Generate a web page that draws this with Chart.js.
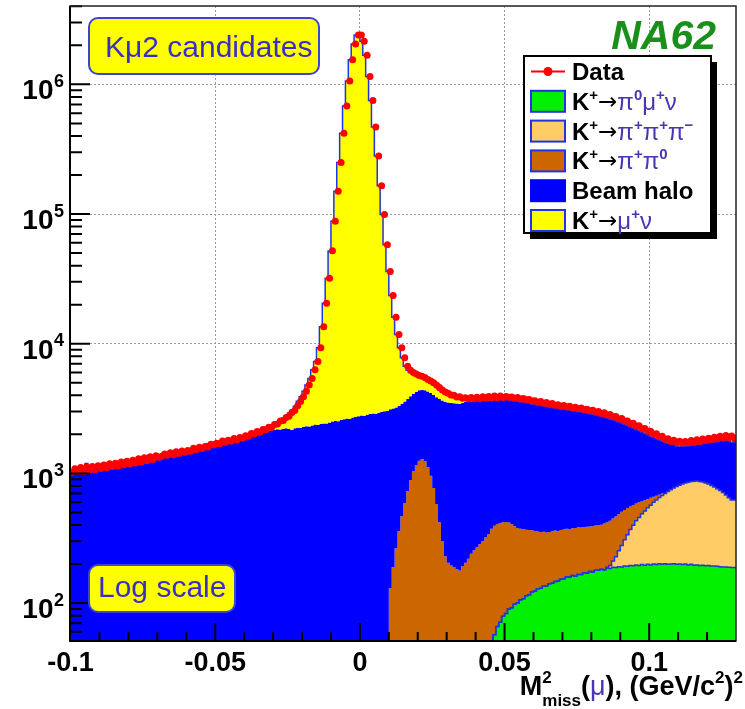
<!DOCTYPE html>
<html>
<head>
<meta charset="utf-8">
<title>Kμ2 candidates - missing mass</title>
<script src="https://cdn.jsdelivr.net/npm/chart.js@4.4.1/dist/chart.umd.min.js"></script>
<style>
  body { margin: 0; background: #fff; }
  canvas { display: block; }
</style>
</head>
<body>
<canvas id="mmiss" width="745" height="709"></canvas>
<script>
// histogram binning : 230 bins of 0.001 (GeV/c2)^2 from -0.1 to 0.13
const binWidth = 0.001;
const histLow = -0.1;
const nBins = 230;
const binEdges = Array.from({length: nBins + 1}, (_, i) => +(histLow + i * binWidth).toFixed(4));
const binCenters = binEdges.slice(0, nBins).map(e => +(e + binWidth / 2).toFixed(4));

// axes
const xTickValues = [-0.1, -0.05, 0, 0.05, 0.1];
const xTickLabels = ['-0.1', '-0.05', '0', '0.05', '0.1'];
const yTickExponents = [2, 3, 4, 5, 6];

// data, one value per bin
const dataCounts = [
  1020, 1085, 1040, 1110, 1035, 1120, 1060, 1130, 1070, 1145,
  1090, 1160, 1105, 1185, 1130, 1200, 1140, 1225, 1165, 1240,
  1180, 1265, 1205, 1295, 1225, 1320, 1250, 1345, 1280, 1370,
  1330, 1355, 1410, 1380, 1440, 1395, 1470, 1425, 1490, 1455,
  1500, 1480, 1560, 1530, 1590, 1555, 1610, 1600, 1680, 1660,
  1710, 1690, 1780, 1745, 1800, 1770, 1860, 1820, 1890, 1870,
  1950, 1935, 2030, 2010, 2100, 2080, 2180, 2170, 2270, 2265,
  2380, 2400, 2530, 2560, 2700, 2760, 2950, 3060, 3330, 3580,
  3900, 4300, 4800, 5400, 6300, 7300, 9300, 13500, 20500, 32000,
  52000, 88000, 150000, 250000, 420000, 680000, 1060000, 1550000, 2050000, 2400000,
  2400000, 2150000, 1680000, 1150000, 750000, 470000, 280000, 165000, 99000, 58000,
  36000, 23500, 16000, 11800, 9300, 7800, 6700, 6250, 6000, 5850,
  5700, 5600, 5500, 5300, 5150, 5000, 4800, 4600, 4400, 4250,
  4150, 4030, 4010, 3890, 3900, 3790, 3830, 3750, 3840, 3760,
  3870, 3760, 3900, 3790, 3920, 3810, 3950, 3830, 3960, 3850,
  3920, 3860, 3890, 3790, 3840, 3750, 3780, 3690, 3720, 3620,
  3630, 3530, 3580, 3470, 3520, 3410, 3460, 3350, 3390, 3290,
  3340, 3250, 3290, 3200, 3240, 3150, 3190, 3100, 3130, 3040,
  3070, 2970, 3000, 2900, 2930, 2820, 2840, 2730, 2750, 2630,
  2650, 2530, 2540, 2420, 2440, 2320, 2330, 2210, 2220, 2110,
  2110, 2000, 2020, 1915, 1930, 1835, 1850, 1765, 1800, 1720,
  1770, 1715, 1765, 1720, 1790, 1730, 1820, 1760, 1845, 1800,
  1870, 1820, 1900, 1850, 1930, 1880, 1960, 1890, 1940, 1850
];

// beam halo, every bin
const haloCounts = [
  1020, 1030, 1060, 1050, 1040, 1060, 1190, 1075, 1070, 1160,
  1075, 1110, 1095, 1125, 1115, 1140, 1125, 1165, 1150, 1180,
  1165, 1205, 1190, 1230, 1215, 1255, 1235, 1285, 1265, 1305,
  1320, 1300, 1350, 1370, 1335, 1380, 1400, 1375, 1420, 1440,
  1425, 1470, 1500, 1470, 1515, 1545, 1530, 1575, 1690, 1640,
  1630, 1670, 1700, 1720, 1700, 1750, 1780, 1760, 1815, 1845,
  1860, 1890, 1920, 1950, 1980, 2000, 2030, 2060, 2090, 2120,
  2150, 2170, 2190, 2180, 2210, 2230, 2200, 2160, 2230, 2250,
  2240, 2290, 2310, 2300, 2340, 2380, 2360, 2400, 2430, 2420,
  2470, 2510, 2540, 2520, 2580, 2610, 2650, 2630, 2700, 2720,
  2760, 2790, 2780, 2830, 2870, 2900, 2880, 2940, 2970, 3010,
  3030, 2990, 2970, 2960, 2950, 2980, 3000, 3020, 3050, 3080,
  3100, 3120, 3100, 3140, 3170, 3200, 3250, 3290, 3330, 3350,
  3340, 3310, 3290, 3280, 3270, 3270, 3300, 3340, 3350, 3360,
  3375, 3340, 3375, 3340, 3360, 3330, 3325, 3310, 3330, 3300,
  3280, 3300, 3260, 3250, 3240, 3240, 3200, 3180, 3150, 3120,
  3060, 3040, 3030, 2990, 2970, 2930, 2910, 2870, 2840, 2810,
  2790, 2760, 2730, 2710, 2680, 2660, 2620, 2600, 2570, 2530,
  2500, 2470, 2430, 2400, 2360, 2310, 2250, 2200, 2140, 2080,
  2010, 1940, 1870, 1800, 1740, 1670, 1600, 1540, 1480, 1420,
  1350, 1290, 1240, 1180, 1130, 1080, 1040, 985, 945, 900,
  830, 810, 790, 785, 780, 785, 795, 800, 820, 845,
  865, 895, 935, 965, 1005, 1045, 1085, 1105, 1125, 1115
];

// K -> mu nu, bins from -0.0345
const kmu2First = -0.0345;
const kmu2Counts = [
  100, 120, 130, 150, 170,
  200, 250, 310, 400, 470, 550, 720, 920, 1070, 1350,
  1660, 2010, 2490, 3100, 3960, 4920, 6940, 11100, 18070, 29580,
  49500, 85500, 147500, 247500, 417400, 677400, 1057000, 1547000, 2047000, 2397000,
  2397000, 2147000, 1677000, 1147000, 747100, 467100, 277100, 162000, 96000, 55000, 33000,
  20380, 12840, 8575, 5990, 4350, 3110, 2500, 2060, 1730, 1440,
  1230, 1110, 920, 860, 840, 780, 730, 650, 600, 560,
  535, 495, 450, 408, 372, 298, 235, 230, 190, 190,
  190, 190, 190, 190, 190, 200
];

// K -> pi pi0, bins from 0.0115
const pipi0First = 0.0115;
const pipi0Counts = [
  130, 190, 265, 360, 470, 590, 730, 890, 1040, 1160,
  1250, 1290, 1240, 1120, 960, 770, 580, 420, 300, 230,
  205, 195, 190, 182, 178, 192, 205, 220, 240, 255,
  270, 285, 300, 320, 340, 337, 338, 339, 344, 341,
  339, 328, 313, 294, 280, 269, 264, 254, 250, 242,
  236, 227, 222, 220, 214, 213, 216, 215, 212, 213,
  216, 215, 213, 215, 219, 218, 216, 215, 218, 215,
  218, 217, 219, 220, 229, 231, 237, 237, 237, 232,
  227, 214, 203, 185, 171, 153, 141, 122, 108, 92,
  79, 60, 49, 34, 25
];

// K -> pi pi pi, bins from 0.0865
const pipipiFirst = 0.0865;
const pipipiCounts = [
  3, 10, 22, 40, 62, 88, 115, 145, 175, 205,
  235, 262, 290, 318, 345, 372, 400, 425, 450, 475,
  500, 525, 548, 570, 592, 612, 630, 645, 658, 668,
  675, 676, 672, 663, 650, 633, 613, 592, 570, 546,
  522, 490, 460, 435
];

// K -> pi0 mu nu, bins from 0.0465
const pi0munuFirst = 0.0465;
const pi0munuCounts = [
  38, 57, 66, 71, 79, 83, 90, 92, 98, 100,
  106, 108, 114, 116, 122, 124, 129, 130, 135, 136,
  141, 142, 147, 148, 153, 154, 159, 159, 163, 161,
  166, 166, 171, 170, 175, 174, 179, 179, 182, 181,
  186, 185, 189, 188, 191, 190, 193, 192, 195, 194,
  197, 195, 198, 196, 199, 197, 200, 198, 201, 199,
  201, 199, 200, 201, 199, 200, 198, 200, 197, 199,
  196, 197, 195, 196, 194, 195, 193, 193, 192, 191,
  190, 190, 189, 188
];

// put a partial histogram into the full binning
function place(values, firstCenter) {
  const out = new Array(nBins).fill(0);
  const k0 = Math.round((firstCenter - binCenters[0]) / binWidth);
  values.forEach((v, j) => { if (k0 + j < nBins) out[k0 + j] = v; });
  return out;
}

// THStack order, bottom to top
const layers = [
  place(pi0munuCounts, pi0munuFirst),
  place(pipipiCounts, pipipiFirst),
  place(pipi0Counts, pipi0First),
  haloCounts,
  place(kmu2Counts, kmu2First)
];
let running = new Array(nBins).fill(0);
const stackTops = layers.map(l => (running = running.map((s, i) => s + l[i])));

// step outline on bin edges; empty bins pushed below the frame
function stepPoints(vals) {
  const pts = vals.map((v, i) => ({x: binEdges[i], y: v > 0 ? v : 1}));
  pts.push({x: binEdges[nBins], y: pts[nBins - 1].y});
  return pts;
}

const FONT = '"Liberation Sans", Arial, Helvetica, sans-serif';
const outline = '#2233e0';
const greekInk = '#4a36b4';

const mc = [
  {label: 'K⁺→μ⁺ν', fill: '#ffff00', border: outline, width: 1.5},
  {label: 'Beam halo', fill: '#0000ff', border: '#0000ff', width: 0},
  {label: 'K⁺→π⁺π⁰', fill: '#cc6600', border: '#cc6600', width: 0},
  {label: 'K⁺→π⁺π⁺π⁻', fill: '#ffcc66', border: outline, width: 1.5},
  {label: 'K⁺→π⁰μ⁺ν', fill: '#00f000', border: outline, width: 1.5}
];

const datasets = [{
  label: 'Data',
  data: binCenters.map((x, i) => ({x, y: dataCounts[i]})),
  showLine: false,
  pointRadius: 3.5,
  pointBorderWidth: 0,
  pointBackgroundColor: '#ff0000',
  pointBorderColor: '#ff0000'
}];
mc.forEach((m, k) => {
  datasets.push({
    label: m.label,
    data: stepPoints(stackTops[4 - k]),
    stepped: 'after',
    backgroundColor: m.fill,
    borderColor: m.border,
    borderWidth: m.width,
    pointRadius: 0,
    fill: k === 4 ? 'start' : '+1'
  });
});

// rich text pieces for the legend
const styles = {
  t:  {size: 24, weight: 'bold', color: '#000', dy: 0},
  s:  {size: 15, weight: 'bold', color: '#000', dy: -10},
  a:  {size: 23, weight: 'normal', color: '#000', dy: -1, family: '"DejaVu Sans", sans-serif'},
  g:  {size: 24, weight: 'normal', color: greekInk, dy: 0},
  gs: {size: 15, weight: 'bold', color: greekInk, dy: -10}
};
function drawParts(ctx, x, y, parts) {
  for (const [text, key] of parts) {
    const st = styles[key];
    ctx.font = `${st.weight} ${st.size}px ${st.family || FONT}`;
    ctx.fillStyle = st.color;
    ctx.fillText(text, x, y + st.dy);
    x += ctx.measureText(text).width;
  }
}

const legendRows = [
  {ds: 0, parts: [['Data', 't']]},
  {ds: 5, parts: [['K', 't'], ['+', 's'], ['→', 'a'], ['π', 'g'], ['0', 'gs'], ['μ', 'g'], ['+', 'gs'], ['ν', 'g']]},
  {ds: 4, parts: [['K', 't'], ['+', 's'], ['→', 'a'], ['π', 'g'], ['+', 'gs'], ['π', 'g'], ['+', 'gs'], ['π', 'g'], ['−', 'gs']]},
  {ds: 3, parts: [['K', 't'], ['+', 's'], ['→', 'a'], ['π', 'g'], ['+', 'gs'], ['π', 'g'], ['0', 'gs']]},
  {ds: 2, parts: [['Beam halo', 't']]},
  {ds: 1, parts: [['K', 't'], ['+', 's'], ['→', 'a'], ['μ', 'g'], ['+', 'gs'], ['ν', 'g']]}
];

function labelBox(ctx, x, y, w, h, text, tx, ty) {
  ctx.beginPath();
  ctx.roundRect(x, y, w, h, 9);
  ctx.fillStyle = '#ffff00';
  ctx.fill();
  ctx.lineWidth = 2;
  ctx.strokeStyle = '#3a46d0';
  ctx.stroke();
  ctx.font = `30px ${FONT}`;
  ctx.fillStyle = '#3b2ec2';
  ctx.textAlign = 'left';
  ctx.fillText(text, tx, ty);
}

// ROOT style frame, inside ticks, labels, legend
const rootDecor = {
  id: 'rootDecor',
  afterDatasetsDraw(chart) {
    const {ctx, chartArea: a, scales: {x, y}} = chart;
    ctx.save();
    ctx.strokeStyle = '#000';
    ctx.lineWidth = 2;
    ctx.beginPath();
    for (let k = -10; k <= 13; k++) {
      const px = x.getPixelForValue(k / 100);
      if (px < a.left + 1 || px > a.right - 1) continue;
      const len = k % 5 === 0 ? 18 : 9;
      ctx.moveTo(px, a.bottom);
      ctx.lineTo(px, a.bottom - len);
    }
    for (let e = 1; e <= 6; e++) {
      for (let m = 1; m <= 9; m++) {
        const v = m * 10 ** e;
        if (v < y.min || v > y.max) continue;
        const py = y.getPixelForValue(v);
        ctx.moveTo(a.left, py);
        ctx.lineTo(a.left + (m === 1 ? 20 : 12), py);
      }
    }
    ctx.stroke();

    ctx.lineWidth = 1.5;
    ctx.strokeStyle = '#222';
    ctx.strokeRect(a.left, a.top, a.right - a.left, a.bottom - a.top);
    ctx.lineWidth = 2;
    ctx.strokeStyle = '#000';
    ctx.beginPath();
    ctx.moveTo(a.left, a.top);
    ctx.lineTo(a.left, a.bottom);
    ctx.lineTo(a.right, a.bottom);
    ctx.stroke();
    ctx.restore();
  },
  afterDraw(chart) {
    const {ctx, scales: {x, y}} = chart;
    ctx.save();

    // y labels 10^n
    yTickExponents.forEach(e => {
      const py = y.getPixelForValue(10 ** e);
      ctx.fillStyle = '#000';
      ctx.font = `bold 28px ${FONT}`;
      ctx.textAlign = 'right';
      ctx.fillText('10', 53.5, py + 15);
      ctx.font = `bold 18px ${FONT}`;
      ctx.textAlign = 'left';
      ctx.fillText(String(e), 54, py + 2.5);
    });

    // x labels
    ctx.font = `bold 27px ${FONT}`;
    ctx.textAlign = 'center';
    xTickValues.forEach((v, i) => {
      ctx.fillText(xTickLabels[i], x.getPixelForValue(v), 671);
    });

    // axis title M^2_miss(mu), (GeV/c^2)^2
    ctx.textAlign = 'left';
    const big = `bold 27px ${FONT}`, small = `bold 17px ${FONT}`, greek = `27px ${FONT}`;
    const measure = (t, f) => { ctx.font = f; return ctx.measureText(t).width; };
    const wM = measure('M', big);
    const wStack = Math.max(measure('2', small), measure('miss', small));
    const wA = measure('(', big), wMu = measure('μ', greek);
    const wB = measure('), (GeV/c', big), w2 = measure('2', small), wC = measure(')', big);
    let tx = 743 - (wM + wStack + wA + wMu + wB + w2 + wC + w2);
    const base = 695;
    ctx.fillStyle = '#000';
    ctx.font = big; ctx.fillText('M', tx, base); tx += wM;
    ctx.font = small; ctx.fillText('2', tx, base - 12); ctx.fillText('miss', tx, base + 11); tx += wStack;
    ctx.font = big; ctx.fillText('(', tx, base); tx += wA;
    ctx.font = greek; ctx.fillStyle = greekInk; ctx.fillText('μ', tx, base); tx += wMu;
    ctx.fillStyle = '#000';
    ctx.font = big; ctx.fillText('), (GeV/c', tx, base); tx += wB;
    ctx.font = small; ctx.fillText('2', tx, base - 12); tx += w2;
    ctx.font = big; ctx.fillText(')', tx, base); tx += wC;
    ctx.font = small; ctx.fillText('2', tx, base - 12);

    // experiment tag
    ctx.font = `italic bold 41px ${FONT}`;
    ctx.fillStyle = '#1b8f1b';
    ctx.textAlign = 'right';
    ctx.fillText('NA62', 716, 49);

    labelBox(ctx, 89, 18, 230, 56, 'Kμ2 candidates', 105, 57);
    labelBox(ctx, 89, 565, 146, 47, 'Log scale', 98, 597);

    // legend with drop shadow
    const lx = 524, ly = 56, lw = 187, lh = 177;
    ctx.fillStyle = '#000';
    ctx.fillRect(lx + 6, ly + 6, lw, lh);
    ctx.fillStyle = '#fff';
    ctx.fillRect(lx, ly, lw, lh);
    ctx.lineWidth = 2;
    ctx.strokeStyle = '#000';
    ctx.strokeRect(lx, ly, lw, lh);
    ctx.textAlign = 'left';
    legendRows.forEach((row, r) => {
      const cy = 71.5 + r * 29.8;
      const ds = chart.data.datasets[row.ds];
      if (row.ds === 0) {
        ctx.strokeStyle = '#ff0000';
        ctx.lineWidth = 2;
        ctx.beginPath();
        ctx.moveTo(531, cy); ctx.lineTo(565, cy);
        ctx.stroke();
        ctx.fillStyle = '#ff0000';
        ctx.beginPath();
        ctx.arc(548, cy, 4.5, 0, Math.PI * 2);
        ctx.fill();
      } else {
        ctx.fillStyle = ds.backgroundColor;
        ctx.fillRect(531, cy - 10.5, 34, 21);
        ctx.strokeStyle = row.ds === 2 ? '#0000ff' : outline;
        ctx.lineWidth = 2;
        ctx.strokeRect(531, cy - 10.5, 34, 21);
      }
      drawParts(ctx, 572, cy + 8.5, row.parts);
    });
    ctx.restore();
  }
};

new Chart(document.getElementById('mmiss'), {
  type: 'line',
  data: {datasets},
  options: {
    responsive: false,
    animation: false,
    events: [],
    layout: {padding: {top: 6, right: 9, left: 0, bottom: 0}},
    plugins: {
      legend: {display: false},
      tooltip: {enabled: false},
      filler: {drawTime: 'beforeDatasetsDraw', propagate: false}
    },
    scales: {
      x: {
        type: 'linear',
        min: -0.1002,
        max: 0.13,
        afterBuildTicks: s => { s.ticks = xTickValues.map(v => ({value: v})); },
        afterFit: s => { s.height = 68; },
        ticks: {display: false},
        grid: {
          color: c => (c.tick && c.tick.value === -0.1 ? 'rgba(0,0,0,0)' : '#9a9a9a'),
          lineWidth: 1,
          drawTicks: false
        },
        border: {display: false, dash: [2, 2]}
      },
      y: {
        type: 'logarithmic',
        min: 51,
        max: 4.02e6,
        afterBuildTicks: s => { s.ticks = yTickExponents.map(e => ({value: 10 ** e})); },
        afterFit: s => { s.width = 70; },
        ticks: {display: false},
        grid: {color: '#9a9a9a', lineWidth: 1, drawTicks: false},
        border: {display: false, dash: [2, 2]}
      }
    }
  },
  plugins: [rootDecor]
});
</script>
</body>
</html>
